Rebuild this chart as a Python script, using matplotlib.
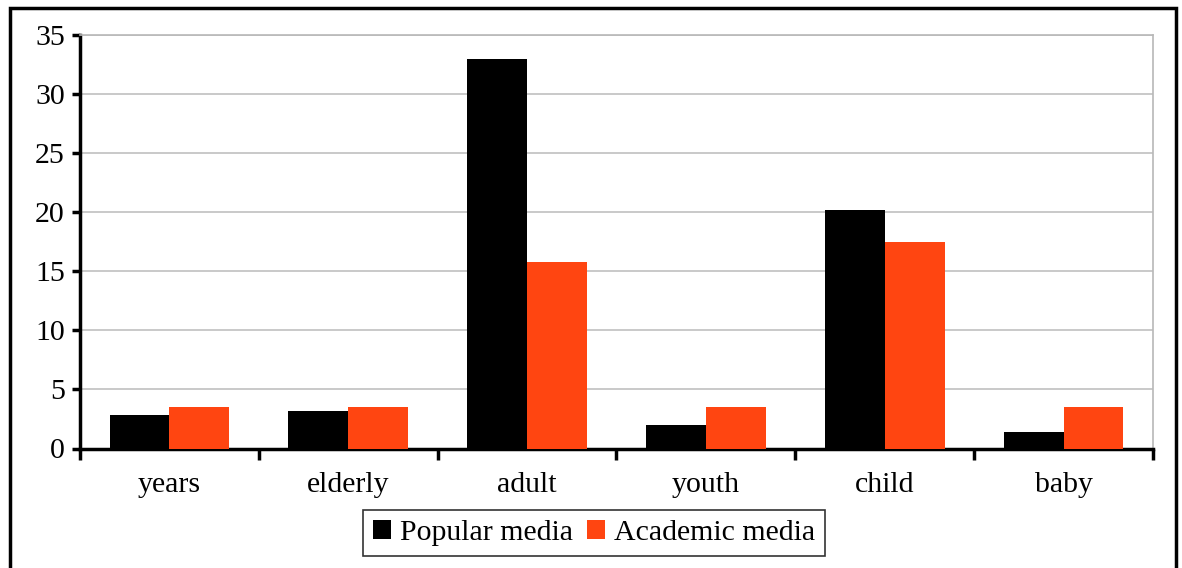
import matplotlib.pyplot as plt
import numpy as np
from matplotlib.patches import Rectangle

categories = ['years', 'elderly', 'adult', 'youth', 'child', 'baby']
popular = [2.8, 3.2, 33.0, 2.0, 20.2, 1.4]
academic = [3.5, 3.5, 15.8, 3.5, 17.5, 3.5]

plt.rcParams['font.family'] = ['Liberation Serif', 'DejaVu Serif']
plt.rcParams['font.size'] = 21.5

fig = plt.figure(figsize=(11.82, 5.68), dpi=100)
ax = fig.add_axes([80/1182, 1-448.5/568, (1153-80)/1182, (448.5-35)/568])

x = np.arange(len(categories))
w = 0.335
ax.bar(x - w/2, popular, w, color='black', label='Popular media', zorder=3)
ax.bar(x + w/2, academic, w, color='#ff4511', label='Academic media', zorder=3)

ax.set_xlim(-0.5, len(categories) - 0.5)
ax.set_ylim(0, 35)
ax.set_yticks(range(0, 36, 5))
ax.yaxis.grid(True, color='#c0c0c0', linewidth=1.2, zorder=0)

# category labels in the middle, tick marks on the boundaries
ax.set_xticks(x)
ax.set_xticklabels(categories)
ax.tick_params(axis='x', which='major', length=0, pad=17)
ax.set_xticks(np.arange(-0.5, len(categories)), minor=True)
ax.tick_params(axis='x', which='minor', length=8, width=2.5, direction='out')
ax.tick_params(axis='y', length=6, width=2.5, direction='out', pad=5)

for s in ['left', 'bottom']:
    ax.spines[s].set_linewidth(2.5)
for s in ['top', 'right']:
    ax.spines[s].set_color('#b8b8b8')
    ax.spines[s].set_linewidth(1.2)

leg = fig.legend(loc='center', bbox_to_anchor=(594/1182, 1-533/568), ncol=2,
                 frameon=True, fancybox=False, handlelength=0.6, handleheight=0.6,
                 handletextpad=0.3, columnspacing=0.45, borderpad=0.35)
leg.get_frame().set_edgecolor('black')
leg.get_frame().set_linewidth(1.2)

# outer frame
fig.patches.append(Rectangle((10/1182, -0.05), (1176-10)/1182, 1.05-8/568,
                             transform=fig.transFigure, fill=False,
                             edgecolor='black', linewidth=2.5))

fig.savefig('out.png', dpi=100)
